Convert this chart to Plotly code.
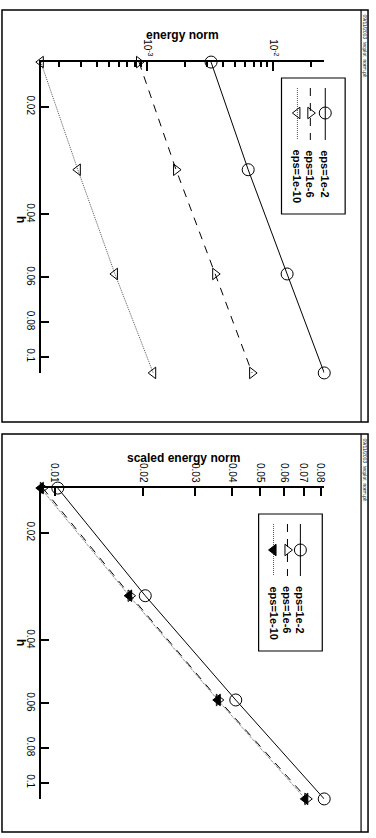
import numpy as np
import plotly.graph_objects as go

# ---------------- data ----------------
h = [0.0150, 0.0300, 0.0587, 0.111]
series_names = ["eps=1e-2", "eps=1e-6", "eps=1e-10"]

energy_eps1e2 = [0.00322, 0.00634, 0.0129, 0.0254]
energy_eps1e6 = [0.000864, 0.00170, 0.00347, 0.00681]
energy_eps1e10 = [0.000144, 0.000283, 0.000557, 0.00112]

scaled_eps1e2 = [0.01024, 0.0203, 0.0412, 0.0823]
scaled_eps1e6 = [0.00911, 0.0181, 0.0361, 0.0721]
scaled_eps1e10 = [0.00897, 0.0179, 0.0358, 0.0710]

h_ticks = [0.02, 0.04, 0.06, 0.08, 0.1]
h_tick_labels = ["0.02", "0.04", "0.06", "0.08", "0.1"]
energy_ticks = [1e-3, 1e-2]
energy_tick_labels = ["10<sup>-3</sup>", "10<sup>-2</sup>"]
energy_minor_ticks = [2e-4, 3e-4, 4e-4, 5e-4, 6e-4, 7e-4, 8e-4, 9e-4,
                      2e-3, 3e-3, 4e-3, 5e-3, 6e-3, 7e-3, 8e-3, 9e-3, 2e-2]
scaled_ticks = [0.01, 0.02, 0.03, 0.04, 0.05, 0.06, 0.07, 0.08]
scaled_tick_labels = ["0.01", "0.02", "0.03", "0.04", "0.05", "0.06", "0.07", "0.08"]

# ---------------- geometry helpers ----------------
W, H = 376, 838
FONT = "Liberation Sans, Arial, Helvetica, sans-serif"
EPS = 2e-4  # tiny range padding (log units) so edge markers are kept


def fx(px):
    return px / W


def fy(py):
    return 1 - py / H


styles = [
    dict(line=dict(color="black", width=1, dash="solid"),
         marker=dict(symbol="circle-open", size=12, color="black", line=dict(width=1))),
    dict(line=dict(color="black", width=1, dash="8px,7px"),
         marker=dict(symbol="triangle-right-open", size=10, color="black", line=dict(width=1))),
    dict(line=dict(color="#555555", width=1, dash="1px,1px"),
         marker=dict(symbol="triangle-left-open", size=10, color="black", line=dict(width=1))),
]
styles_bottom = [styles[0], styles[1],
                 dict(line=dict(color="#555555", width=1, dash="1px,1px"),
                      marker=dict(symbol="triangle-left", size=10, color="black",
                                  line=dict(width=1, color="black")))]

fig = go.Figure()

top_series = [energy_eps1e2, energy_eps1e6, energy_eps1e10]
bot_series = [scaled_eps1e2, scaled_eps1e6, scaled_eps1e10]

for name, vals, st in zip(series_names, top_series, styles):
    fig.add_trace(go.Scatter(x=vals, y=h, mode="lines+markers", name=name,
                             line=st["line"], marker=st["marker"], cliponaxis=False,
                             xaxis="x", yaxis="y", showlegend=False))
for name, vals, st in zip(series_names, bot_series, styles_bottom):
    fig.add_trace(go.Scatter(x=vals, y=h, mode="lines+markers", name=name,
                             line=st["line"], marker=st["marker"], cliponaxis=False,
                             xaxis="x2", yaxis="y2", showlegend=False))

# ---------------- custom rotated legends (overlay pixel axis) ----------------
legend_cfg = [
    (283, 347, 78, 214, [327, 312, 299], 88, 140, 113, 148, styles),
    (260, 324, 514, 651, [302, 289, 275], 524, 576, 550, 584, styles_bottom),
]
annotations = []
shapes = []
for bx0, bx1, by0, by1, cols, ly0, ly1, my, ty, sts in legend_cfg:
    shapes.append(dict(type="rect", xref="paper", yref="paper",
                       x0=fx(bx0), x1=fx(bx1), y0=fy(by0), y1=fy(by1),
                       line=dict(color="black", width=1.2)))
    for cx, name, st in zip(cols, series_names, sts):
        fig.add_trace(go.Scatter(x=[cx, cx], y=[ly0, ly1], mode="lines",
                                 line=st["line"], xaxis="x3", yaxis="y3",
                                 showlegend=False, hoverinfo="skip"))
        fig.add_trace(go.Scatter(x=[cx], y=[my], mode="markers",
                                 marker=st["marker"], xaxis="x3", yaxis="y3",
                                 showlegend=False, hoverinfo="skip", cliponaxis=False))
        annotations.append(dict(text="<b>%s</b>" % name, textangle=90,
                                x=fx(cx), y=fy(ty), xref="paper", yref="paper",
                                xanchor="center", yanchor="top", showarrow=False,
                                font=dict(family=FONT, size=11, color="black")))

# ---------------- frames ----------------
for y0, y1 in [(10, 422), (434, 832)]:
    shapes.append(dict(type="rect", xref="paper", yref="paper",
                       x0=fx(2), x1=fx(370), y0=fy(y0), y1=fy(y1),
                       line=dict(color="black", width=1.5)))
    shapes.append(dict(type="line", xref="paper", yref="paper",
                       x0=fx(363), x1=fx(363), y0=fy(y0), y1=fy(y1),
                       line=dict(color="black", width=1.2)))
    annotations.append(dict(text="09/11/2003  tecplot  norm.plt", textangle=90,
                            x=fx(366.5), y=fy(y0 + 2), xref="paper", yref="paper",
                            xanchor="center", yanchor="top", showarrow=False,
                            font=dict(family=FONT, size=5, color="black")))

# ---------------- titles ----------------
annotations += [
    dict(text="<b>energy norm</b>", x=fx(183), y=fy(35), xref="paper", yref="paper",
         xanchor="center", yanchor="middle", showarrow=False,
         font=dict(family=FONT, size=12, color="black")),
    dict(text="<b>h</b>", textangle=90, x=fx(21), y=fy(220), xref="paper", yref="paper",
         xanchor="center", yanchor="middle", showarrow=False,
         font=dict(family=FONT, size=12, color="black")),
    dict(text="<b>scaled energy norm</b>", x=fx(184), y=fy(458), xref="paper", yref="paper",
         xanchor="center", yanchor="middle", showarrow=False,
         font=dict(family=FONT, size=12, color="black")),
    dict(text="<b>h</b>", textangle=90, x=fx(21), y=fy(643), xref="paper", yref="paper",
         xanchor="center", yanchor="middle", showarrow=False,
         font=dict(family=FONT, size=12, color="black")),
]

# ---------------- axes ----------------
lh = np.log10(h)
hrange = [float(lh.max()) + EPS, float(lh.min()) - EPS]
top_all = np.log10(np.concatenate([energy_eps1e2, energy_eps1e6, energy_eps1e10]))
bot_all = np.log10(np.concatenate([scaled_eps1e2, scaled_eps1e6, scaled_eps1e10]))

xdom = [fx(41), fx(326)]
tickfont = dict(family=FONT, size=10, color="black")
common = dict(type="log", showline=True, linewidth=2, linecolor="black", mirror=False,
              ticks="inside", tickwidth=2, tickcolor="black", showgrid=False,
              zeroline=False, tickangle=90, tickfont=tickfont, tickmode="array",
              fixedrange=True)

fig.update_layout(
    width=W, height=H, margin=dict(l=0, r=0, t=0, b=0),
    paper_bgcolor="white", plot_bgcolor="rgba(0,0,0,0)",
    xaxis=dict(common, domain=xdom, anchor="y", side="top",
               range=[float(top_all.min()) - EPS, float(top_all.max()) + EPS],
               tickvals=energy_ticks, ticktext=energy_tick_labels, ticklen=9,
               minor=dict(tickmode="array", tickvals=energy_minor_ticks, ticks="inside",
                          ticklen=5, tickwidth=1.5, tickcolor="black", showgrid=False)),
    yaxis=dict(common, domain=[fy(373), fy(62)], anchor="x", side="left",
               range=hrange, tickvals=h_ticks, ticktext=h_tick_labels, ticklen=8),
    xaxis2=dict(common, domain=xdom, anchor="y2", side="top",
                range=[float(bot_all.min()) - EPS, float(bot_all.max()) + EPS],
                tickvals=scaled_ticks, ticktext=scaled_tick_labels, ticklen=8),
    yaxis2=dict(common, domain=[fy(799), fy(488)], anchor="x2", side="left",
                range=hrange, tickvals=h_ticks, ticktext=h_tick_labels, ticklen=8),
    xaxis3=dict(domain=[0, 1], range=[0, W], visible=False, anchor="y3", fixedrange=True),
    yaxis3=dict(domain=[0, 1], range=[H, 0], visible=False, anchor="x3", fixedrange=True),
    shapes=shapes,
    annotations=annotations,
    showlegend=False,
)

fig.write_html("out.html", config={"displayModeBar": False},
               post_script="document.body.style.margin='0';document.body.style.padding='0';"
                           "document.body.style.overflow='hidden';")
